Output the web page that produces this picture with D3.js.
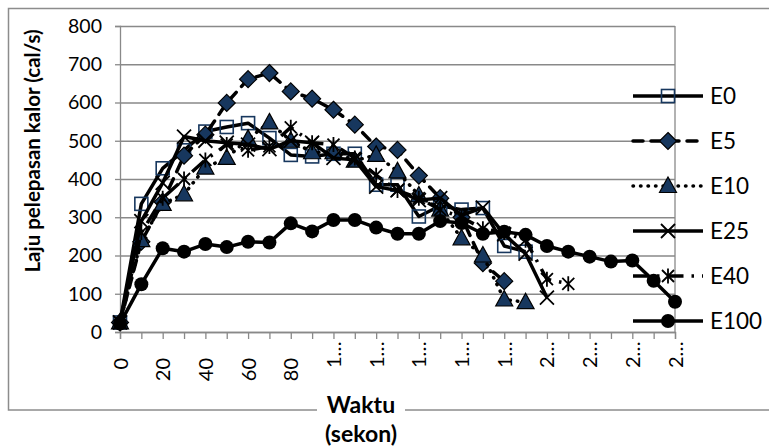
<!DOCTYPE html>
<html>
<head>
<meta charset="utf-8">
<script src="https://cdn.jsdelivr.net/npm/d3@7"></script>
<style>
  html, body { margin: 0; padding: 0; background: #fff; }
  svg text { font-family: Lato, "Open Sans", sans-serif; fill: #000; }
</style>
</head>
<body>
<svg id="chart" width="769" height="448"></svg>
<script>
// Time (seconds) on the category axis
const waktu = [0, 10, 20, 30, 40, 50, 60, 70, 80, 90, 100, 110, 120, 130, 140,
               150, 160, 170, 180, 190, 200, 210, 220, 230, 240, 250, 260];
// Every other category carries a (truncated) label
const xTickLabels = ["0", "20", "40", "60", "80", "1…", "1…", "1…", "1…", "1…",
                     "2…", "2…", "2…", "2…"];
const yTicks = [0, 100, 200, 300, 400, 500, 600, 700, 800];

// Heat release rate (cal/s) per mixture
const E0   = [25, 335, 428, 475, 524, 536, 546, 507, 463, 459, 466, 466, 385, 385,
              302, 330, 320, 324, 225, 210];
const E5   = [25, 236, 340, 461, 516, 599, 661, 677, 629, 610, 581, 542, 485, 476,
              409, 350, 300, 180, 133];
const E10  = [25, 240, 335, 360, 430, 455, 505, 548, 500, 470, 470, 448, 463, 420,
              357, 320, 245, 200, 85, 78];
const E25  = [25, 290, 390, 511, 500, 495, 490, 478, 500, 495, 455, 450, 380, 370,
              345, 350, 305, 325, 255, 205, 90];
const E40  = [25, 260, 350, 400, 450, 490, 475, 485, 535, 495, 490, 455, 410, 370,
              350, 320, 300, 270, 260, 240, 138, 126];
const E100 = [22, 125, 219, 210, 230, 222, 236, 234, 284, 263, 293, 293, 273, 257,
              257, 290, 285, 257, 262, 254, 225, 210, 197, 184, 187, 134, 79];

const seriesNames = ["E0", "E5", "E10", "E25", "E40", "E100"];
const seriesValues = [E0, E5, E10, E25, E40, E100];

const NAVY = "#17375E";
const GRID = "#898989";

// Line and marker styles per series
const styles = {
  E0:   { dash: null,           cap: "butt",  marker: "square" },
  E5:   { dash: "10,8",         cap: "round", marker: "diamond" },
  E10:  { dash: "0.5,7",        cap: "round", marker: "triangle" },
  E25:  { dash: null,           cap: "butt",  marker: "x" },
  E40:  { dash: "16,8,2.5,8",   cap: "butt",  marker: "star" },
  E100: { dash: null,           cap: "butt",  marker: "circle" }
};

const svg = d3.select("#chart");

const plot = { left: 120, right: 675, top: 26, bottom: 332 };

const x = d3.scalePoint()
  .domain(waktu)
  .range([plot.left, plot.right])
  .padding(0);

const y = d3.scaleLinear()
  .domain([0, 800])
  .range([plot.bottom, plot.top]);

// Outer chart frame
svg.append("rect")
  .attr("x", 8.5).attr("y", 8.5)
  .attr("width", 780).attr("height", 401.5)
  .attr("fill", "none")
  .attr("stroke", "#8c8c8c")
  .attr("stroke-width", 1.5);

// Horizontal gridlines
svg.append("g")
  .attr("transform", `translate(${plot.left},0)`)
  .call(d3.axisLeft(y).tickValues(yTicks).tickSize(-(plot.right - plot.left)).tickFormat(""))
  .call(g => g.select(".domain").remove())
  .call(g => g.selectAll("line").attr("stroke", GRID).attr("stroke-width", 1.3));

// Plot-area right edge
svg.append("line")
  .attr("x1", plot.right).attr("x2", plot.right)
  .attr("y1", plot.top).attr("y2", plot.bottom)
  .attr("stroke", GRID).attr("stroke-width", 1.3);

// Y axis
const yAxis = svg.append("g")
  .attr("transform", `translate(${plot.left},0)`)
  .call(d3.axisLeft(y).tickValues(yTicks).tickSize(5).tickPadding(13))
  .call(g => g.select(".domain").attr("stroke", GRID).attr("stroke-width", 1.3))
  .call(g => g.selectAll("line").attr("stroke", GRID).attr("stroke-width", 1.3));
yAxis.selectAll("text")
  .attr("font-size", 19.5)
  .attr("font-family", "Lato, sans-serif");

// X axis: tick at every category, label at every other one
const labelByValue = new Map(waktu.filter((d, i) => i % 2 === 0).map((d, i) => [d, xTickLabels[i]]));
const xAxis = svg.append("g")
  .attr("transform", `translate(0,${plot.bottom})`)
  .call(d3.axisBottom(x).tickSize(7).tickFormat(d => labelByValue.get(d) || ""))
  .call(g => g.select(".domain").attr("stroke", GRID).attr("stroke-width", 1.3))
  .call(g => g.selectAll("line").attr("stroke", GRID).attr("stroke-width", 1.3));
xAxis.selectAll("text")
  .attr("font-size", 20)
  .attr("font-family", "Lato, sans-serif")
  .attr("transform", "rotate(-90)")
  .attr("dy", "0.35em")
  .each(function (d) {
    const t = d3.select(this);
    const label = labelByValue.get(d) || "";
    if (label.includes("…")) {
      t.attr("text-anchor", "start").attr("x", -36).attr("y", 0);
    } else {
      t.attr("text-anchor", "end").attr("x", -26).attr("y", 0);
    }
  });

// Marker shapes
function drawMarker(sel, type) {
  if (type === "square") {
    sel.append("rect")
      .attr("x", -6.5).attr("y", -6.5).attr("width", 13).attr("height", 13)
      .attr("fill", "none").attr("stroke", NAVY).attr("stroke-width", 1.6);
  } else if (type === "diamond") {
    sel.append("path")
      .attr("d", "M0,-8.5L8.5,0L0,8.5L-8.5,0Z")
      .attr("fill", NAVY).attr("stroke", "#000").attr("stroke-width", 1.2);
  } else if (type === "triangle") {
    sel.append("path")
      .attr("d", "M0,-9L8.5,6.5L-8.5,6.5Z")
      .attr("fill", NAVY).attr("stroke", "#000").attr("stroke-width", 1.2);
  } else if (type === "x") {
    sel.append("path")
      .attr("d", "M-7,-7L7,7M-7,7L7,-7")
      .attr("fill", "none").attr("stroke", "#000").attr("stroke-width", 1.8);
  } else if (type === "star") {
    sel.append("path")
      .attr("d", "M-6,-6L6,6M-6,6L6,-6M0,-7.5L0,7.5")
      .attr("fill", "none").attr("stroke", "#000").attr("stroke-width", 1.8);
  } else if (type === "circle") {
    sel.append("circle")
      .attr("r", 7).attr("fill", "#000");
  }
}

const line = d3.line()
  .x((d, i) => x(waktu[i]))
  .y(d => y(d));

// Series lines with markers
seriesNames.forEach((name, k) => {
  const vals = seriesValues[k];
  const st = styles[name];
  const g = svg.append("g").attr("class", "series " + name);
  g.append("path")
    .datum(vals)
    .attr("d", line)
    .attr("fill", "none")
    .attr("stroke", "#000")
    .attr("stroke-width", 3.5)
    .attr("stroke-linejoin", "round")
    .attr("stroke-linecap", st.cap)
    .attr("stroke-dasharray", st.dash);
  g.selectAll("g.pt")
    .data(vals)
    .join("g")
    .attr("class", "pt")
    .attr("transform", (d, i) => `translate(${x(waktu[i])},${y(d)})`)
    .each(function () { drawMarker(d3.select(this), st.marker); });
});

// Legend
const legend = svg.append("g").attr("class", "legend");
seriesNames.forEach((name, k) => {
  const st = styles[name];
  const ly = 96 + k * 45;
  const item = legend.append("g").attr("transform", `translate(0,${ly})`);
  item.append("line")
    .attr("x1", 633).attr("x2", 703)
    .attr("stroke", "#000").attr("stroke-width", 3.5)
    .attr("stroke-linecap", st.cap)
    .attr("stroke-dasharray", st.dash);
  const m = item.append("g").attr("transform", "translate(668,0)");
  drawMarker(m, st.marker);
  item.append("text")
    .attr("x", 710).attr("y", 0).attr("dy", "0.36em")
    .attr("font-size", 22.5)
    .text(name);
});

// Y axis title
svg.append("text")
  .attr("transform", "translate(40,151) rotate(-90)")
  .attr("text-anchor", "middle")
  .attr("font-size", 20.5)
  .attr("font-weight", "bold")
  .text("Laju pelepasan kalor (cal/s)");

// X axis title (two lines, on a white box over the frame)
svg.append("rect")
  .attr("x", 317).attr("y", 392).attr("width", 88).attr("height", 56)
  .attr("fill", "#fff");
const xt = svg.append("text")
  .attr("text-anchor", "middle")
  .attr("font-size", 23)
  .attr("font-weight", "bold");
xt.append("tspan").attr("x", 361).attr("y", 413).text("Waktu");
xt.append("tspan").attr("x", 361).attr("y", 442).text("(sekon)");
</script>
</body>
</html>
